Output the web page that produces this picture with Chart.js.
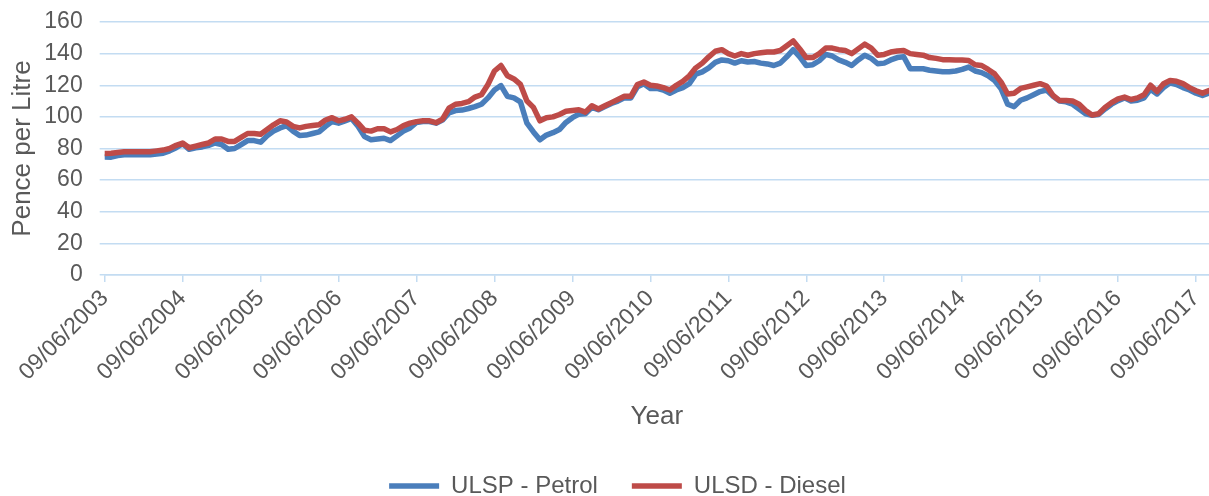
<!DOCTYPE html>
<html lang="en">
<head>
    <meta charset="UTF-8">
    <title>Fuel prices - Pence per Litre</title>
    <script src="https://cdn.jsdelivr.net/npm/chart.js"></script>
    <style>
        html, body { margin: 0; padding: 0; background: #fff; }
        .chart-box { position: relative; width: 1209px; height: 496px; }
    </style>
</head>
<body>
    <div class="chart-box">
        <canvas id="fuelChart"></canvas>
    </div>

    <script>
        // Monthly readings starting June 2003 (pence per litre)
        const tickLabels = ['09/06/2003', '09/06/2004', '09/06/2005', '09/06/2006', '09/06/2007',
            '09/06/2008', '09/06/2009', '09/06/2010', '09/06/2011', '09/06/2012',
            '09/06/2013', '09/06/2014', '09/06/2015', '09/06/2016', '09/06/2017'];

        const petrol = [
            74.7, 74.5, 75.5, 76, 76, 76, 76, 76, 76.5, 77, 78.5, 80.5,
            83, 79.5, 80.5, 81, 82, 83.5, 82.5, 79.5, 80, 82.5, 85, 85,
            84, 88, 91, 93, 94.5, 91, 88.2, 88.5, 89.5, 90.5, 94, 97,
            96, 97.5, 99, 94, 87.5, 85.5, 86, 86.5, 85, 88, 91, 93,
            96.5, 97, 97, 96, 98, 102.5, 104, 104.3, 105.3, 106.5, 108, 112,
            117, 119.8, 113, 112, 109.5, 96, 90.5, 85.5, 88.5, 90, 92, 96.5,
            99.5, 101.7, 102, 106, 104.5, 106.5, 108.5, 110, 112, 112, 119, 121,
            118, 118, 117, 115, 117, 118.5, 121, 127, 128.5, 131, 134.5, 136,
            135.5, 134, 135.5, 134.7, 135, 134, 133.5, 132.5, 134, 138, 142.5, 138,
            132.5, 133, 135.5, 139.5, 138.5, 136, 134.5, 132.5, 136, 139, 137, 133.6,
            134, 136, 137.5, 138, 130.5, 130.4, 130.4, 129.5, 129, 128.5, 128.5, 129,
            130, 131.5, 129, 128, 126, 123, 117.7, 108, 106.5, 110.5, 112, 114,
            116, 117, 113, 110, 109.5, 108, 105, 102, 101, 101.5, 105, 108,
            110.3, 112, 110, 110.5, 112, 117.5, 114.5, 118.5, 121.5, 120.5, 118.5, 117,
            115, 113.5, 115
        ];

        const diesel = [
            76.8, 77, 77.5, 78, 78, 78, 78, 78, 78.5, 79, 80, 82,
            83.5, 80.5, 81.5, 82.5, 83.5, 86, 86, 84.5, 84.5, 87, 89.5, 89.5,
            89, 92, 95, 97.5, 96.8, 94, 93, 94, 94.5, 95, 98, 99.5,
            97.5, 98.5, 100, 96, 91.5, 91, 92.5, 92.5, 90.5, 92, 94.5, 96,
            97, 97.5, 97.5, 96.3, 98.5, 105.5, 108, 108.5, 109.6, 112.5, 114, 120.5,
            129, 132.5, 126, 124, 120.5, 110, 106, 97.5, 99.5, 100, 101.5, 103.5,
            104, 104.5, 103, 107, 105, 107, 109, 111, 113, 113, 120.5, 122,
            120, 119.5, 118.5, 117, 120, 122.5, 126, 131, 134, 138, 141.5, 142.5,
            140, 138.5, 140, 139, 140, 140.5, 141, 141, 142, 145, 148, 143,
            137.5, 137.5, 140, 143.5, 143.5, 142.5, 142, 140, 143, 146, 143.5, 139,
            139.5, 141, 141.7, 142, 140, 139.5, 139, 137.5, 137, 136.2, 136.2, 136,
            136, 135.7, 133, 132.5, 130, 127.2, 122, 114.5, 115, 118, 119, 120,
            121, 119.5, 113.5, 110.3, 110.3, 110, 108, 104, 101.2, 102, 106, 109,
            111.4, 112.5, 111, 112, 114, 120, 116, 121, 123, 122.5, 121, 118.5,
            116.5, 115, 116.7
        ];

        const monthsPerYear = 12;
        const textColor = '#595959';
        const gridColor = '#C3DCF2';

        Chart.defaults.font.family = "'Liberation Sans', Arial, sans-serif";

        document.addEventListener('DOMContentLoaded', () => {
            initializeChart();
        });

        function initializeChart() {
            const ctx = document.getElementById('fuelChart').getContext('2d');
            new Chart(ctx, {
                type: 'line',
                data: {
                    datasets: [{
                        label: 'ULSP - Petrol',
                        data: petrol.map((v, i) => ({ x: i, y: v })),
                        borderColor: '#4A7EBB',
                        backgroundColor: '#4A7EBB',
                        borderWidth: 5.5,
                        borderCapStyle: 'round',
                        borderJoinStyle: 'round',
                        pointRadius: 0,
                        tension: 0,
                        order: 1
                    }, {
                        label: 'ULSD - Diesel',
                        data: diesel.map((v, i) => ({ x: i, y: v })),
                        borderColor: '#BE4B48',
                        backgroundColor: '#BE4B48',
                        borderWidth: 5.5,
                        borderCapStyle: 'round',
                        borderJoinStyle: 'round',
                        pointRadius: 0,
                        tension: 0,
                        order: 0
                    }]
                },
                options: {
                    responsive: true,
                    maintainAspectRatio: false,
                    animation: false,
                    layout: {
                        padding: { left: 26, right: 0, top: 22, bottom: -12 }
                    },
                    plugins: {
                        tooltip: { enabled: false },
                        legend: {
                            position: 'bottom',
                            labels: {
                                usePointStyle: true,
                                pointStyle: 'line',
                                pointStyleWidth: 50,
                                color: textColor,
                                font: { size: 24 },
                                padding: 34,
                                sort: (a, b) => a.datasetIndex - b.datasetIndex
                            }
                        }
                    },
                    scales: {
                        x: {
                            type: 'linear',
                            min: 0,
                            max: petrol.length - 1,
                            afterBuildTicks: (scale) => {
                                scale.ticks = tickLabels.map((_, i) => ({ value: i * monthsPerYear }));
                            },
                            afterFit: (scale) => {
                                scale.height = 165;
                                scale.paddingLeft = 0;
                                scale.paddingRight = 0;
                            },
                            ticks: {
                                autoSkip: false,
                                minRotation: 45,
                                maxRotation: 45,
                                padding: 3,
                                color: textColor,
                                font: { size: 23 },
                                callback: (value, index) => tickLabels[index]
                            },
                            grid: {
                                drawOnChartArea: false,
                                drawTicks: true,
                                tickLength: 7,
                                color: gridColor,
                                lineWidth: 1.5
                            },
                            border: { color: gridColor, width: 1.5 },
                            title: {
                                display: true,
                                text: 'Year',
                                color: textColor,
                                font: { size: 26 },
                                padding: { top: 0, bottom: 8 }
                            }
                        },
                        y: {
                            min: 0,
                            max: 160,
                            afterFit: (scale) => {
                                scale.width = 78.7;
                                scale.paddingTop = 0;
                                scale.paddingBottom = 0;
                            },
                            ticks: {
                                stepSize: 20,
                                autoSkip: false,
                                padding: 17,
                                color: textColor,
                                font: { size: 23 }
                            },
                            grid: {
                                color: gridColor,
                                tickLength: 5,
                                lineWidth: 1.5
                            },
                            border: { display: false },
                            title: {
                                display: true,
                                text: 'Pence per Litre',
                                color: textColor,
                                font: { size: 26 },
                                padding: { top: -19, bottom: 0 }
                            }
                        }
                    }
                }
            });
        }
    </script>
</body>
</html>
